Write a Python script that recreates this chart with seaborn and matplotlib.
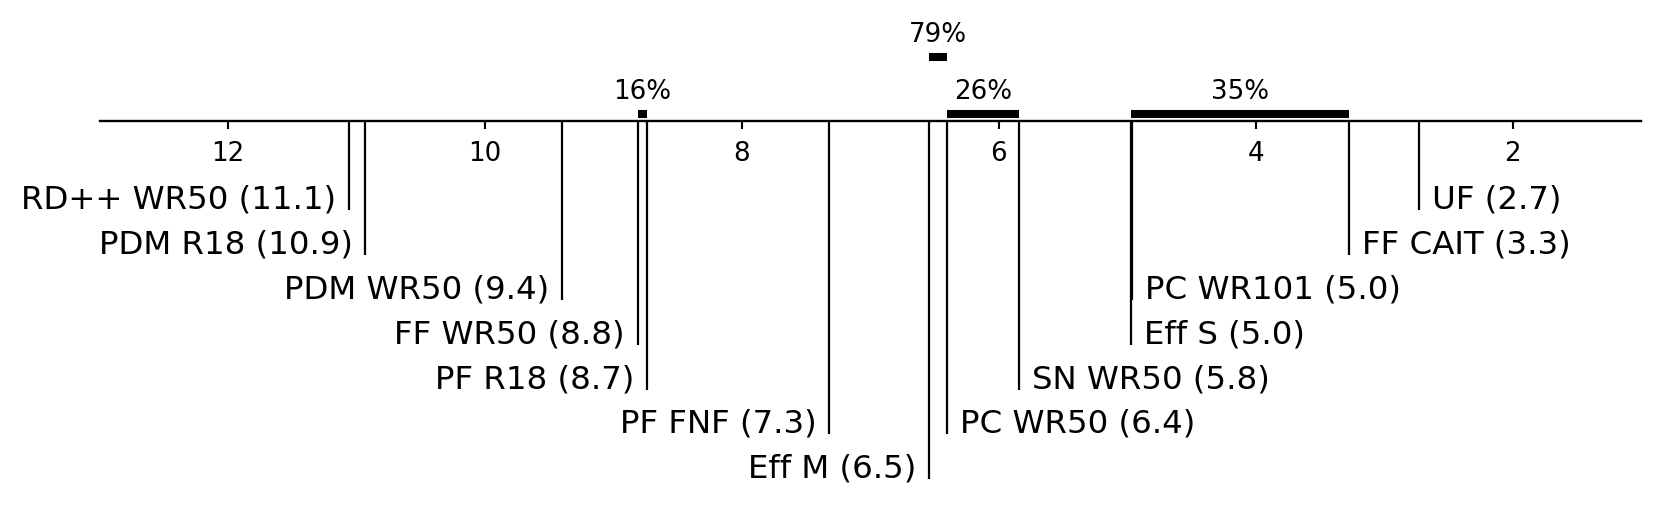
import pandas as pd
import matplotlib.pyplot as plt
import seaborn as sns

# average ranks per method
methods = ['RD++ WR50', 'PDM R18', 'PDM WR50', 'FF WR50', 'PF R18', 'PF FNF', 'Eff M',
           'PC WR50', 'SN WR50', 'Eff S', 'PC WR101', 'FF CAIT', 'UF']
ranks = [11.06, 10.93, 9.40, 8.81, 8.74, 7.32, 6.54,
         6.40, 5.84, 4.97, 4.96, 3.27, 2.73]

# cliques: first method, last method, label, level above the axis
clique_start = ['FF WR50', 'Eff M', 'PC WR50', 'Eff S']
clique_end = ['PF R18', 'PC WR50', 'SN WR50', 'FF CAIT']
clique_labels = ['16%', '79%', '26%', '35%']
clique_level = [0, 1, 0, 0]

tick_values = [2, 4, 6, 8, 10, 12]

df = pd.DataFrame({'method': methods, 'rank': ranks}).sort_values('rank', ascending=False)
n = len(df)
n_left = (n + 1) // 2
df['side'] = ['left'] * n_left + ['right'] * (n - n_left)
df['row'] = list(range(1, n_left + 1)) + list(range(n - n_left, 0, -1))

sns.set_theme(style='white')
plt.rcParams['font.family'] = ['DejaVu Sans']

W, H = 1661, 521
fig = plt.figure(figsize=(W / 100, H / 100), dpi=100)
ax = fig.add_axes([99.5 / W, 0, (1641 - 99.5) / W, 1])

unit = 44.8          # pixels per label row
axis_px = 120.7      # vertical position of the rank axis
ax.set_xlim(13, 1)
ax.set_ylim((H - axis_px) / unit, -axis_px / unit)

# rank axis
sns.despine(ax=ax, left=True, top=True, right=True)
ax.spines['bottom'].set_position(('data', 0))
ax.spines['bottom'].set_linewidth(1.7)
ax.spines['bottom'].set_color('black')
ax.set_xticks(tick_values)
ax.set_yticks([])
ax.tick_params(axis='x', bottom=True, direction='out', length=5.8, width=1.5,
               color='black', labelsize=18.8, pad=8.6, labelcolor='black')

rank_of = dict(zip(df['method'], df['rank']))
gap = 0.1

# method stems and labels
for _, r in df.iterrows():
    y_end = r['row'] + 1.0
    ax.vlines(r['rank'], 0, y_end, color='black', linewidth=1.6)
    label = f"{r['method']} ({r['rank']:.1f})"
    if r['side'] == 'left':
        ax.text(r['rank'] + gap, y_end - 0.03, label, ha='right', va='baseline',
                fontsize=23.3, color='black')
    else:
        ax.text(r['rank'] - gap, y_end - 0.03, label, ha='left', va='baseline',
                fontsize=23.3, color='black')

# cliques
for s, e, lab, lvl in zip(clique_start, clique_end, clique_labels, clique_level):
    x0, x1 = rank_of[s], rank_of[e]
    yb = -0.15 - 1.27 * lvl
    ax.plot([x0, x1], [yb, yb], color='black', linewidth=5.8, solid_capstyle='butt')
    ax.text((x0 + x1) / 2, yb - 0.49, lab, ha='center', va='center',
            fontsize=18.8, color='black')

plt.savefig('out.png', dpi=100)
